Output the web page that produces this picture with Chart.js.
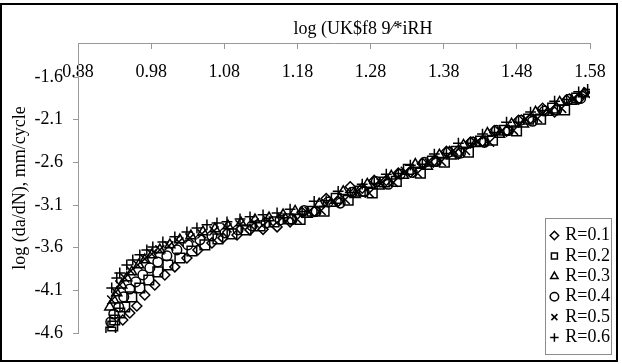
<!DOCTYPE html>
<html><head><meta charset="utf-8">
<script src="https://cdn.jsdelivr.net/npm/chart.js@4/dist/chart.umd.min.js"></script>
<style>
html,body{margin:0;padding:0;background:#fff;}
#wrap{position:relative;width:622px;height:364px;overflow:hidden;background:#fff;}
#c{position:absolute;left:0;top:0;}
#frame{position:absolute;left:0;top:3px;width:618px;height:359px;box-sizing:border-box;border:2px solid #000;pointer-events:none;}
</style></head><body>
<div id="wrap"><canvas id="c" width="622" height="364"></canvas><div id="frame"></div></div>
<script>
const chartTitle = 'log (UK$f8 9\u2044*iRH';
const yTitle = 'log (da/dN), mm/cycle';
const seriesNames = ['R=0.1','R=0.2','R=0.3','R=0.4','R=0.5','R=0.6'];
const xTicks = [0.88,0.98,1.08,1.18,1.28,1.38,1.48,1.58];
const yTicks = [-4.6,-4.1,-3.6,-3.1,-2.6,-2.1,-1.6];

const r01X = [0.9412,0.9508,0.9604,0.9713,0.9850,0.9987,1.0124,1.0289,1.0439,1.0631,1.0782,1.0974,1.1152,1.1330,1.1522,1.1700,1.1864,1.2029,1.2193,1.2357,1.2522,1.2686,1.2850,1.3015,1.3179,1.3344,1.3508,1.3672,1.3837,1.4001,1.4166,1.4330,1.4494,1.4659,1.4823,1.4987,1.5152,1.5316,1.5481,1.5645,1.5727];
const r01Y = [-4.447,-4.365,-4.283,-4.154,-4.037,-3.919,-3.825,-3.720,-3.626,-3.544,-3.485,-3.450,-3.391,-3.385,-3.356,-3.297,-3.187,-3.176,-3.024,-3.057,-2.885,-2.902,-2.811,-2.811,-2.726,-2.715,-2.610,-2.578,-2.471,-2.502,-2.362,-2.353,-2.226,-2.234,-2.105,-2.085,-1.966,-2.009,-1.869,-1.860,-1.785];

const r02X = [0.9248,0.9275,0.9302,0.9371,0.9439,0.9535,0.9645,0.9768,0.9891,1.0028,1.0193,1.0357,1.0535,1.0713,1.0905,1.1097,1.1289,1.1481,1.1672,1.1837,1.2001,1.2165,1.2330,1.2494,1.2659,1.2823,1.2987,1.3152,1.3316,1.3481,1.3645,1.3809,1.3974,1.4138,1.4303,1.4467,1.4631,1.4796,1.4960,1.5125,1.5289,1.5453,1.5618];
const r02Y = [-4.588,-4.518,-4.447,-4.365,-4.295,-4.177,-4.072,-3.978,-3.884,-3.802,-3.720,-3.638,-3.567,-3.497,-3.438,-3.391,-3.344,-3.297,-3.262,-3.268,-3.172,-3.171,-3.021,-3.044,-2.937,-2.958,-2.829,-2.822,-2.682,-2.725,-2.585,-2.598,-2.469,-2.479,-2.350,-2.340,-2.223,-2.230,-2.092,-2.093,-1.964,-1.986,-1.845];

const r03X = [0.9234,0.9289,0.9330,0.9398,0.9467,0.9535,0.9631,0.9713,0.9809,0.9919,1.0056,1.0193,1.0344,1.0508,1.0672,1.0850,1.1029,1.1220,1.1412,1.1604,1.1768,1.1933,1.2097,1.2261,1.2426,1.2590,1.2755,1.2919,1.3083,1.3248,1.3412,1.3577,1.3741,1.3905,1.4070,1.4234,1.4398,1.4563,1.4727,1.4892,1.5056,1.5220,1.5385,1.5549,1.5714];
const r03Y = [-4.295,-4.213,-4.130,-4.037,-3.954,-3.884,-3.802,-3.743,-3.684,-3.626,-3.567,-3.508,-3.461,-3.415,-3.379,-3.344,-3.309,-3.274,-3.250,-3.215,-3.173,-3.208,-3.089,-3.081,-2.942,-2.977,-2.856,-2.879,-2.761,-2.752,-2.623,-2.646,-2.514,-2.527,-2.399,-2.378,-2.260,-2.271,-2.150,-2.152,-2.011,-2.014,-1.894,-1.884,-1.797];

const r04X = [0.9248,0.9289,0.9357,0.9426,0.9508,0.9590,0.9686,0.9782,0.9891,1.0015,1.0152,1.0302,1.0467,1.0631,1.0809,1.0987,1.1179,1.1371,1.1563,1.1727,1.1892,1.2056,1.2220,1.2385,1.2549,1.2713,1.2878,1.3042,1.3207,1.3371,1.3535,1.3700,1.3864,1.4029,1.4193,1.4357,1.4522,1.4686,1.4851,1.5015,1.5179,1.5344,1.5508,1.5672];
const r04Y = [-4.471,-4.377,-4.295,-4.177,-4.084,-4.001,-3.919,-3.837,-3.767,-3.696,-3.626,-3.567,-3.508,-3.461,-3.426,-3.391,-3.344,-3.309,-3.274,-3.270,-3.163,-3.175,-3.066,-3.077,-2.950,-2.942,-2.823,-2.856,-2.737,-2.717,-2.600,-2.589,-2.481,-2.492,-2.362,-2.365,-2.224,-2.226,-2.105,-2.117,-1.998,-1.989,-1.859,-1.850];

const r05X = [0.9261,0.9316,0.9371,0.9439,0.9522,0.9617,0.9713,0.9809,0.9919,1.0042,1.0179,1.0330,1.0494,1.0659,1.0837,1.1015,1.1207,1.1398,1.1590,1.1796,1.1960,1.2124,1.2289,1.2453,1.2618,1.2782,1.2946,1.3111,1.3275,1.3440,1.3604,1.3768,1.3933,1.4097,1.4261,1.4426,1.4590,1.4755,1.4919,1.5083,1.5248,1.5412,1.5577,1.5755];
const r05Y = [-4.213,-4.119,-4.037,-3.954,-3.872,-3.802,-3.731,-3.673,-3.626,-3.579,-3.532,-3.485,-3.438,-3.403,-3.368,-3.332,-3.309,-3.285,-3.250,-3.267,-3.172,-3.163,-3.046,-3.035,-2.939,-2.960,-2.843,-2.834,-2.704,-2.727,-2.608,-2.588,-2.459,-2.460,-2.352,-2.363,-2.233,-2.224,-2.093,-2.085,-1.986,-1.966,-1.845,-1.803];

const r06X = [0.9261,0.9330,0.9371,0.9467,0.9549,0.9645,0.9741,0.9823,0.9960,1.0124,1.0289,1.0426,1.0563,1.0700,1.0837,1.1015,1.1152,1.1330,1.1522,1.1700,1.1864,1.2029,1.2193,1.2357,1.2522,1.2686,1.2850,1.3015,1.3179,1.3344,1.3508,1.3672,1.3837,1.4001,1.4166,1.4330,1.4494,1.4659,1.4823,1.4987,1.5152,1.5316,1.5481,1.5645,1.5768];
const r06Y = [-4.072,-3.954,-3.896,-3.802,-3.743,-3.684,-3.626,-3.591,-3.532,-3.473,-3.415,-3.368,-3.332,-3.309,-3.297,-3.262,-3.238,-3.215,-3.192,-3.148,-3.175,-3.056,-3.047,-2.939,-2.952,-2.855,-2.846,-2.739,-2.730,-2.632,-2.623,-2.502,-2.496,-2.375,-2.376,-2.268,-2.249,-2.129,-2.130,-2.010,-1.991,-1.882,-1.862,-1.773,-1.744];

const FONT = 'Liberation Serif, Times New Roman, serif';
function pts(xs, ys) { return xs.map((x, i) => ({x: x, y: ys[i]})); }
function ds(label, xs, ys, style, radius) {
  return {label: label, data: pts(xs, ys), pointStyle: style, pointRadius: radius, pointHoverRadius: radius,
    borderColor: '#000', backgroundColor: 'rgba(0,0,0,0)', borderWidth: 1.5, showLine: false};
}

const placeBoxes = {
  id: 'placeBoxes',
  afterLayout(chart) {
    const t = chart.titleBlock;
    if (t) { const cx = 363, half = 200; t.left = cx - half; t.right = cx + half; t.width = 2 * half; }
    const lg = chart.legend;
    if (lg) { lg.left = 549; lg.right = 610; lg.top = 218; lg.bottom = 355; lg.width = 61; lg.height = 137; }
  },
  afterDraw(chart) {
    const ctx = chart.ctx;
    ctx.save(); ctx.strokeStyle = '#8c8c8c'; ctx.lineWidth = 1;
    ctx.strokeRect(545.5, 218.5, 66, 136);
    ctx.restore();
  }
};

new Chart(document.getElementById('c'), {
  type: 'scatter',
  data: {datasets: [
    ds(seriesNames[0], r01X, r01Y, 'rectRot', 5),
    ds(seriesNames[1], r02X, r02Y, 'rect', 6.8),
    ds(seriesNames[2], r03X, r03Y, 'triangle', 5.8),
    ds(seriesNames[3], r04X, r04Y, 'circle', 4.8),
    ds(seriesNames[4], r05X, r05Y, 'crossRot', 6.4),
    ds(seriesNames[5], r06X, r06Y, 'cross', 5.4)
  ]},
  options: {
    responsive: false, animation: false, devicePixelRatio: 1,
    layout: {padding: {top: 8, right: 32, bottom: 31, left: 0}},
    plugins: {
      title: {display: true, text: chartTitle, color: '#000', font: {family: FONT, size: 18, weight: 'normal'}, padding: {top: 10, bottom: 3.4}},
      legend: {position: 'chartArea', align: 'center',
        labels: {usePointStyle: true, boxWidth: 6, boxHeight: 6, padding: 2.4, textAlign: 'right', color: '#000',
          font: {family: FONT, size: 18, lineHeight: 1.1}}},
      tooltip: {enabled: false}
    },
    scales: {
      x: {type: 'linear', position: {y: -1.2}, min: 0.88, max: 1.58,
        afterBuildTicks: s => { s.ticks = xTicks.map(v => ({value: v})); },
        ticks: {callback: v => Number(v).toFixed(2), color: '#000', padding: 13, maxRotation: 0, autoSkip: false, font: {family: FONT, size: 18}},
        grid: {drawOnChartArea: false, drawTicks: true, tickLength: 5, color: '#999'},
        border: {color: '#999', width: 1}},
      y: {type: 'linear', position: 'left', min: -4.6, max: -1.2,
        afterBuildTicks: s => { s.ticks = yTicks.map(v => ({value: v})); },
        afterFit: s => { s.width = 78; },
        ticks: {callback: v => Number(v).toFixed(1), color: '#000', padding: 10, font: {family: FONT, size: 18}},
        grid: {drawOnChartArea: false, drawTicks: true, tickLength: 5, color: '#999'},
        border: {color: '#999', width: 1},
        title: {display: true, text: yTitle, color: '#000', font: {family: FONT, size: 18}, padding: {top: 9, bottom: 0}}}
    }
  },
  plugins: [placeBoxes]
});
</script>
</body></html>
